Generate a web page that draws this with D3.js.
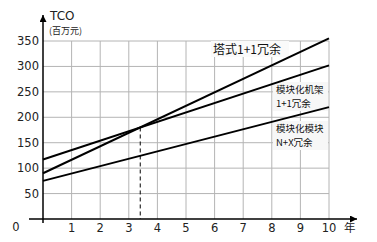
<!DOCTYPE html>
<html>
<head>
<meta charset="utf-8">
<script src="https://cdn.jsdelivr.net/npm/d3@7"></script>
<style>
  body { margin: 0; background: #fff; }
  svg { display: block; }
</style>
</head>
<body>
<div id="vis"></div>
<script>
// chart data
var years = [0, 10];
var towerTco = [90, 355];     // 塔式1+1冗余
var rackTco = [117, 302];     // 模块化机架 1+1冗余
var moduleTco = [75, 220];    // 模块化模块 N+X冗余
var xTicks = [1, 2, 3, 4, 5, 6, 7, 8, 9, 10];
var yTicks = [50, 100, 150, 200, 250, 300, 350];
var crossPoint = [3.4, 180];

var font = '"DejaVu Sans", Verdana, sans-serif';
var cjk = '"Noto Sans CJK SC", "DejaVu Sans", sans-serif';

var svg = d3.select("#vis").append("svg")
    .attr("width", 377)
    .attr("height", 242);

var x = d3.scaleLinear().domain([0, 10]).range([43, 329]);
var y = d3.scaleLinear().domain([0, 350]).range([219, 41]);

// grid
svg.append("g").selectAll("line").data(yTicks).enter().append("line")
    .attr("x1", x(0)).attr("x2", x(10))
    .attr("y1", d => y(d)).attr("y2", d => y(d))
    .attr("stroke", "#b4b4b4").attr("stroke-width", 1);
svg.append("g").selectAll("line").data(xTicks).enter().append("line")
    .attr("x1", d => x(d)).attr("x2", d => x(d))
    .attr("y1", y(0)).attr("y2", y(350))
    .attr("stroke", "#b4b4b4").attr("stroke-width", 1);

// label backgrounds
svg.append("rect").attr("x", 211).attr("y", 41).attr("width", 78).attr("height", 16).attr("fill", "#fafafa");
svg.append("rect").attr("x", 273).attr("y", 82).attr("width", 55).attr("height", 29).attr("fill", "#f7f7f7");
svg.append("rect").attr("x", 273).attr("y", 121).attr("width", 55).attr("height", 29).attr("fill", "#f7f7f7");

// axes
svg.append("defs").append("marker")
    .attr("id", "arrow").attr("viewBox", "0 0 10 10")
    .attr("refX", 10).attr("refY", 5)
    .attr("markerWidth", 7).attr("markerHeight", 7)
    .attr("markerUnits", "userSpaceOnUse")
    .attr("orient", "auto")
    .append("path").attr("d", "M0,0 L10,5 L0,10 z").attr("fill", "#000");

svg.append("line")
    .attr("x1", 29).attr("x2", 357)
    .attr("y1", y(0)).attr("y2", y(0))
    .attr("stroke", "#000").attr("stroke-width", 1.5)
    .attr("marker-end", "url(#arrow)");
svg.append("line")
    .attr("x1", x(0)).attr("x2", x(0))
    .attr("y1", 223).attr("y2", 15)
    .attr("stroke", "#000").attr("stroke-width", 1.5)
    .attr("marker-end", "url(#arrow)");

// tick labels
svg.append("g").selectAll("text").data(yTicks).enter().append("text")
    .attr("x", 39).attr("y", d => y(d) + 4)
    .attr("text-anchor", "end")
    .style("font-family", font).style("font-size", "11.5px").attr("fill", "#222")
    .text(d => d);
svg.append("g").selectAll("text").data(xTicks).enter().append("text")
    .attr("x", d => x(d)).attr("y", 232)
    .attr("text-anchor", "middle")
    .style("font-family", font).style("font-size", "11.5px").attr("fill", "#222")
    .text(d => d);
svg.append("text").attr("x", 16).attr("y", 231).attr("text-anchor", "middle")
    .style("font-family", font).style("font-size", "11.5px").attr("fill", "#222").text("0");
svg.append("text").attr("x", 344).attr("y", 232)
    .style("font-family", cjk).style("font-size", "11.5px").attr("fill", "#222").text("年");

svg.append("text").attr("x", 50).attr("y", 20)
    .style("font-family", font).style("font-size", "12px").attr("fill", "#222").text("TCO");
svg.append("text").attr("x", 49).attr("y", 34)
    .style("font-family", cjk).style("font-size", "9px").attr("fill", "#222").text("(百万元)");

// dashed drop line at crossing
svg.append("line")
    .attr("x1", x(crossPoint[0])).attr("x2", x(crossPoint[0]))
    .attr("y1", y(crossPoint[1])).attr("y2", y(0))
    .attr("stroke", "#000").attr("stroke-width", 1)
    .attr("stroke-dasharray", "4,3");

// TCO lines
var line = d3.line().x((d, i) => x(years[i])).y(d => y(d));
[towerTco, rackTco, moduleTco].forEach(function (s) {
    svg.append("path").attr("d", line(s))
        .attr("fill", "none").attr("stroke", "#000").attr("stroke-width", 2);
});

// series labels
svg.append("text").attr("x", 213).attr("y", 54)
    .style("font-family", cjk).style("font-size", "12px").attr("fill", "#111").text("塔式1+1冗余");
var lbl = [
    {t: "模块化机架", y: 93}, {t: "1+1冗余", y: 107},
    {t: "模块化模块", y: 132}, {t: "N+X冗余", y: 146}
];
svg.append("g").selectAll("text").data(lbl).enter().append("text")
    .attr("x", 276).attr("y", d => d.y)
    .style("font-family", cjk).style("font-size", "9.5px").attr("fill", "#111")
    .text(d => d.t);
</script>
</body>
</html>
